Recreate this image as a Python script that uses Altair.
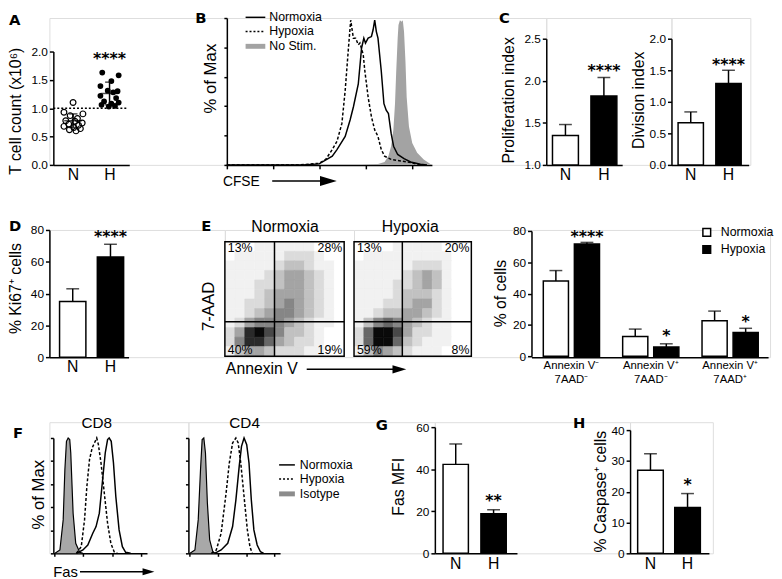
import altair as alt
import pandas as pd

FONT = "Liberation Sans"
BOLD_FONT = "DejaVu Sans"
HIST_GRAY = "#a3a3a3"
ISO_GRAY = "#a8a8a8"

# ======================= DATA =======================
GROUPS = ["N", "H"]

# A: T cell count (x10^6), individual points (value, horizontal jitter)
A_N_VALUES = [1.10, 0.93, 0.90, 0.87, 0.82, 0.78, 0.77, 0.74, 0.72, 0.70, 0.68, 0.66, 0.64, 0.62, 0.60]
A_N_JITTER = [0.00, -0.25, 0.27, -0.08, 0.12, -0.20, 0.05, 0.25, -0.12, 0.15, -0.25, 0.02, 0.20, -0.10, 0.08]
A_H_VALUES = [1.63, 1.58, 1.48, 1.39, 1.31, 1.30, 1.28, 1.22, 1.18, 1.12, 1.10, 1.08, 1.06, 1.04, 1.03]
A_H_JITTER = [-0.20, 0.25, 0.05, -0.25, -0.05, 0.22, 0.10, -0.25, 0.18, -0.15, 0.25, 0.05, -0.22, 0.15, -0.02]
A_MEAN = [0.78, 1.26]
A_SD = [0.12, 0.20]
A_REF = 1.0
A_STAR_Y = 1.94

# B: CFSE histograms (x: CFSE intensity, arbitrary units; y: % of max)
B_NORM_X = [0, 37.0, 45.0, 51.4, 53.7, 57.7, 60.1, 61.7, 64.1, 65.7, 66.8, 67.6, 68.9, 70.5, 71.3,
            72.1, 72.9, 73.7, 75.3, 76.6, 77.7, 78.8, 80.1, 81.3, 83.3, 86.4, 89.6, 94.4, 97.6]
B_NORM_Y = [0, 0, 0.7, 6.1, 10.6, 19.7, 31.0, 40.0, 55.9, 80.8, 87.6, 84.2, 87.6, 88.7, 93.2,
            100, 92.1, 87.6, 64.9, 42.3, 37.8, 35.5, 21.9, 12.9, 7.2, 4.3, 2.0, 0.5, 0]
B_HYP_X = [0, 35.4, 45.0, 48.2, 51.4, 53.7, 56.1, 57.7, 59.3, 60.4, 61.7, 62.8, 64.1, 64.9, 66.5,
           67.3, 68.9, 70.5, 72.1, 73.7, 75.3, 76.9, 80.1, 84.8, 89.6, 94.4]
B_HYP_Y = [0, 0, 1.1, 3.8, 10.6, 16.3, 28.7, 51.4, 80.8, 100, 87.6, 87.6, 83.0, 84.2, 76.2,
           64.9, 46.8, 33.3, 24.2, 19.7, 10.6, 6.1, 3.8, 2.7, 1.6, 0]
B_NOSTIM_X = [65.7, 73.7, 76.9, 78.8, 80.1, 81.2, 82.0, 82.6, 83.3, 83.7, 84.4, 85.2, 85.8, 86.4,
              87.1, 87.7, 88.8, 90.4, 92.8, 96.0, 100]
B_NOSTIM_Y = [0, 0.7, 2.0, 6.1, 12.9, 24.2, 42.3, 64.9, 87.6, 96.6, 100, 98.9, 100, 92.1,
              71.7, 46.8, 26.5, 15.2, 8.4, 3.8, 0]
B_LEGEND = ["Normoxia", "Hypoxia", "No Stim."]

# C: proliferation / division index (mean, top of error bar)
C_PROLIF = [1.35, 1.82]
C_PROLIF_ERR = [1.48, 2.04]
C_DIV = [0.67, 1.29]
C_DIV_ERR = [0.84, 1.50]

# D: % Ki67+ cells
D_KI67 = [35.0, 63.0]
D_KI67_ERR = [43.0, 71.0]

# E: density of events (0-9) on a 12x12 grid, top row first
E_NORM_GRID = ["000111111000",
               "011111222100",
               "111112332110",
               "111123443210",
               "111223443210",
               "111234443210",
               "112234543210",
               "112345543210",
               "124555432110",
               "248975332100",
               "258864322100",
               "134432221100"]
E_HYP_GRID = ["000011111000",
              "011111111100",
              "111111222100",
              "111112343100",
              "111122343100",
              "111123332100",
              "111223442100",
              "112334432100",
              "135654321100",
              "269974221100",
              "269963211100",
              "135432111000"]
E_NORM_GATE = [4.99, 3.62]
E_HYP_GATE = [4.94, 3.62]
E_NORM_PCT = ["13%", "28%", "40%", "19%"]
E_HYP_PCT = ["13%", "20%", "59%", "8%"]
E_CATS = ["Annexin V\u207b\n7AAD\u207b", "Annexin V\u207a\n7AAD\u207b", "Annexin V\u207a\n7AAD\u207a"]
E_CONDS = ["Normoxia", "Hypoxia"]
E_NORM = [48.0, 12.5, 22.6]
E_NORM_ERR = [54.7, 17.3, 28.8]
E_HYP = [71.6, 5.8, 15.2]
E_HYP_ERR = [72.7, 7.9, 17.8]
E_STARS = ["****", "*", "*"]
E_STAR_Y = [78.7, 15.2, 24.6]

# F: Fas histograms (x: Fas intensity, arbitrary units; y: % of max)
F8_ISO_X = [1.8, 7.0, 10.5, 12.3, 14.0, 15.8, 17.5, 18.6, 21.1, 23.9, 28.1, 31.6]
F8_ISO_Y = [0, 2.9, 29.0, 72.5, 97.1, 100, 98.6, 87.0, 34.8, 8.7, 0.9, 0]
F8_HYP_X = [24.6, 29.8, 33.3, 35.8, 38.6, 41.4, 43.9, 46.3, 48.1, 50.9, 54.4, 57.9, 61.4, 64.9, 68.4]
F8_HYP_Y = [0, 5.8, 29.0, 58.0, 81.2, 91.3, 95.7, 100, 94.2, 78.3, 52.2, 26.1, 8.7, 1.4, 0]
F8_NORM_X = [24.6, 31.6, 36.8, 42.1, 45.6, 49.1, 52.6, 55.4, 57.9, 59.6, 61.8, 64.2, 66.7, 70.2,
             73.7, 77.2, 82.5]
F8_NORM_Y = [0, 2.9, 7.2, 17.4, 23.2, 34.8, 63.8, 87.0, 98.6, 100, 97.1, 78.3, 49.3, 20.3,
             5.8, 0.9, 0]
F4_ISO_X = [1.8, 7.1, 10.7, 13.2, 15.0, 16.8, 18.6, 20.7, 23.2, 26.8, 30.4]
F4_ISO_Y = [0, 2.9, 29.0, 72.5, 98.6, 100, 87.0, 43.5, 11.6, 0.9, 0]
F4_HYP_X = [25.0, 30.4, 35.7, 41.1, 44.6, 48.2, 51.8, 54.3, 57.1, 60.7, 64.3, 67.1, 69.6]
F4_HYP_Y = [0, 2.9, 17.4, 52.2, 78.3, 95.7, 100, 95.7, 78.3, 49.3, 20.3, 5.8, 0]
F4_NORM_X = [28.6, 35.7, 42.9, 48.2, 51.8, 55.4, 57.9, 60.7, 63.6, 66.1, 68.6, 71.4, 75.0, 78.6, 82.1]
F4_NORM_Y = [0, 2.9, 8.7, 23.2, 46.4, 75.4, 92.8, 100, 94.2, 78.3, 46.4, 20.3, 7.2, 1.4, 0]
F_LEGEND = ["Normoxia", "Hypoxia", "Isotype"]

# G: Fas MFI
G_FAS = [42.3, 18.8]
G_FAS_ERR = [52.0, 20.7]

# H: % Caspase+ cells
H_CASP = [27.0, 14.9]
H_CASP_ERR = [32.3, 19.4]

DUMMY = pd.DataFrame({"d": [0]})


# ======================= HELPERS =======================
def yaxis(title=None, tx=0, ty=0, values=None, fmt=None, labels=True, ticks=True,
          domain=True, offset=0, title_size=16, tick_size=4):
    kw = dict(grid=False, labels=labels, ticks=ticks, domain=domain,
              domainColor="black", domainWidth=1.5, tickColor="black", tickWidth=1.5,
              tickSize=tick_size, labelFont=FONT, labelFontSize=12, labelColor="black",
              labelPadding=2)
    if values is not None:
        kw["values"] = values
    if fmt:
        kw["format"] = fmt
    if offset:
        kw["offset"] = offset
    if title:
        kw.update(title=title, titleFont=FONT, titleFontSize=title_size,
                  titleFontWeight="normal", titleColor="black", titleAngle=270,
                  titleAlign="center", titleBaseline="alphabetic", titleX=tx, titleY=ty)
    else:
        kw["title"] = None
    return alt.Axis(**kw)


def cat_axis(size=16, pad=2, expr=None, values=None, line_height=None):
    kw = dict(title=None, grid=False, ticks=False, domain=True, domainColor="black",
              domainWidth=1.5, labelAngle=0, labelFont=FONT, labelFontSize=size,
              labelColor="black", labelPadding=pad, labelBaseline="top")
    if expr:
        kw["labelExpr"] = expr
    if values is not None:
        kw["values"] = values
    if line_height:
        kw["labelLineHeight"] = line_height
    return alt.Axis(**kw)


def tick_axis(values, tick_size=3):
    return alt.Axis(title=None, labels=False, ticks=True, tickSize=tick_size, tickWidth=1.5,
                    tickColor="black", values=values, domainColor="black", domainWidth=1.5,
                    grid=False)


def band_scale(domain, axis_x, first_left, bar_w, step, end_x):
    n = len(domain)
    w = end_x - axis_x
    p_in = 1 - bar_w / step
    outer = w - step * (n - p_in)
    p_out = max(outer, 0) / (2 * step)
    align = min(max((first_left - axis_x) / outer, 0), 1) if outer > 0 else 0.5
    return alt.Scale(domain=domain, range=[0, w], paddingInner=p_in,
                     paddingOuter=p_out, align=align)


def txt(s, x, y, size, align="left", baseline="alphabetic", font=FONT, weight="normal"):
    return alt.Chart(DUMMY).mark_text(
        text=s, font=font, fontSize=size, fontWeight=weight, align=align,
        baseline=baseline, color="black").encode(x=alt.value(x), y=alt.value(y))


def hline(x1, x2, y, width=1.5, dash=None, color="black"):
    kw = dict(color=color, strokeWidth=width)
    if dash:
        kw["strokeDash"] = dash
    return alt.Chart(DUMMY).mark_rule(**kw).encode(
        x=alt.value(x1), x2=alt.value(x2), y=alt.value(y))


def frame_guide(left, top, bottom):
    # invisible guide that fixes the outer extent of one row of panels
    return alt.Chart(DUMMY).mark_rule(opacity=0, strokeWidth=0).encode(
        x=alt.value(left), y=alt.value(top), y2=alt.value(bottom))


def arrow_head(x, y, length):
    return alt.Chart(DUMMY).mark_point(
        shape="M-1,-0.6L1,0L-1,0.6Z", filled=True, size=length * length,
        color="black", opacity=1).encode(x=alt.value(x), y=alt.value(y))


def letter(s, x, y):
    return txt(s, x, y, 15, font=BOLD_FONT, weight="bold")


def star_text(df, x_enc, y_enc, extra=None):
    enc = dict(x=x_enc, y=y_enc, text="t:N")
    if extra:
        enc.update(extra)
    return alt.Chart(df).mark_text(font=BOLD_FONT, fontWeight="bold", fontSize=16,
                                   baseline="alphabetic", dy=9, color="black").encode(**enc)


def bar_panel(values, errs, stars, star_y, xscale, ydom, yrng, yvals, yfmt,
              title, tx, ty, w, h, extra=()):
    df = pd.DataFrame({"g": GROUPS, "v": values, "e": errs})
    xax = cat_axis()
    yax = yaxis(title, tx, ty, values=yvals, fmt=yfmt)
    ysc = alt.Scale(domain=ydom, range=yrng)
    X = alt.X("g:N", scale=xscale, axis=xax)
    base = alt.Chart(df)
    bars = base.mark_bar(stroke="black", strokeWidth=1.5).encode(
        x=X, y=alt.Y("v:Q", scale=ysc, axis=yax), y2=alt.datum(ydom[0]),
        fill=alt.Fill("g:N", scale=alt.Scale(domain=GROUPS, range=["white", "black"]),
                      legend=None))
    err = base.mark_rule(color="black", strokeWidth=1.5).encode(
        x=X, y=alt.Y("v:Q", scale=ysc, axis=yax), y2="e:Q")
    cap = base.mark_tick(color="black", size=13, thickness=1.5).encode(
        x=X, y=alt.Y("e:Q", scale=ysc, axis=yax))
    sdf = pd.DataFrame({"g": [GROUPS[1]], "sy": [star_y], "t": [stars]})
    star = star_text(sdf, X, alt.Y("sy:Q", scale=ysc, axis=yax))
    return alt.layer(err, bars, cap, star, *extra).properties(width=w, height=h)


def hist_df(xs, ys):
    return pd.DataFrame({"x": xs, "y": ys})


# Row extents (relative to each row's plot area): left guide, top / bottom margins
GUIDE_LEFT = -60
ROW_SPACING = 10

# ======================= PANEL A =======================
a_df = pd.DataFrame({
    "pos": [0] * len(A_N_VALUES) + [1] * len(A_H_VALUES),
    "jit": A_N_JITTER + A_H_JITTER,
    "val": A_N_VALUES + A_H_VALUES,
})
A_XDOM = [-0.5405, 1.5405]
a_xs = alt.Scale(domain=A_XDOM, range=[4, 81])
a_ys = alt.Scale(domain=[0, 2], range=[149, 34])
a_xax = cat_axis(expr=f"datum.value == 0 ? '{GROUPS[0]}' : '{GROUPS[1]}'", values=[0, 1])
a_yax = yaxis("T cell count (x10\u2076)", -33.5, 94, values=[0, 0.5, 1, 1.5, 2],
              fmt=".1f", offset=-4)


def AX(f):
    return alt.X(f, scale=a_xs, axis=a_xax)


def AY(f):
    return alt.Y(f, scale=a_ys, axis=a_yax)


a_pts = alt.Chart(a_df).transform_calculate(xp="datum.pos + datum.jit")
a_n = a_pts.transform_filter("datum.pos == 0").mark_point(
    shape="circle", filled=False, color="black", strokeWidth=1.2, size=34, opacity=1
).encode(x=AX("xp:Q"), y=AY("val:Q"))
a_h = a_pts.transform_filter("datum.pos == 1").mark_circle(
    color="black", size=34, opacity=1).encode(x=AX("xp:Q"), y=AY("val:Q"))
a_st = alt.Chart(pd.DataFrame({"pos": [0, 1], "m": A_MEAN, "sd": A_SD})).transform_calculate(
    lo="datum.m - datum.sd", hi="datum.m + datum.sd")
a_mean = a_st.mark_tick(orient="horizontal", size=18, thickness=1.5, color="black").encode(
    x=AX("pos:Q"), y=AY("m:Q"))
a_sdr = a_st.mark_rule(color="black", strokeWidth=1.5).encode(
    x=AX("pos:Q"), y=AY("lo:Q"), y2="hi:Q")
a_cap_hi = a_st.mark_tick(orient="horizontal", size=9, thickness=1.5, color="black").encode(
    x=AX("pos:Q"), y=AY("hi:Q"))
a_cap_lo = a_st.mark_tick(orient="horizontal", size=9, thickness=1.5, color="black").encode(
    x=AX("pos:Q"), y=AY("lo:Q"))
a_ref = alt.Chart(pd.DataFrame({"x1": [A_XDOM[0]], "x2": [1.49], "y": [A_REF]})).mark_rule(
    strokeDash=[2, 2], strokeWidth=1.5, color="black").encode(
    x=AX("x1:Q"), x2="x2:Q", y=AY("y:Q"))
a_star = star_text(pd.DataFrame({"pos": [1], "sy": [A_STAR_Y], "t": ["****"]}),
                   AX("pos:Q"), AY("sy:Q"))
panelA = alt.layer(a_ref, a_n, a_h, a_sdr, a_mean, a_cap_hi, a_cap_lo, a_star,
                   letter("A", -41, 7), frame_guide(GUIDE_LEFT, -20, 149 + 32)
                   ).properties(width=180, height=149)

# ======================= PANEL B =======================
b_xs = alt.Scale(domain=[0, 100], range=[0, 208])
b_ys = alt.Scale(domain=[0, 101.5], range=[149, 0])
b_xax = tick_axis([0, 22.7, 45.3, 68, 90.6], 4)
b_yax = yaxis("% of Max", -12, 61, values=[0, 20.3, 40.6, 60.9, 81.2, 101.5],
              labels=False, tick_size=3, title_size=17)
BX = alt.X("x:Q", scale=b_xs, axis=b_xax)
BY = alt.Y("y:Q", scale=b_ys, axis=b_yax)
b_area = alt.Chart(hist_df(B_NOSTIM_X, B_NOSTIM_Y)).mark_area(
    color=HIST_GRAY, opacity=1).encode(x=BX, y=BY)
b_hyp = alt.Chart(hist_df(B_HYP_X, B_HYP_Y)).mark_line(
    color="black", strokeWidth=1.5, strokeDash=[3, 2]).encode(x=BX, y=BY)
b_norm = alt.Chart(hist_df(B_NORM_X, B_NORM_Y)).mark_line(
    color="black", strokeWidth=1.5).encode(x=BX, y=BY)
b_leg = [
    hline(19, 39, -0.7), txt(B_LEGEND[0], 43, -0.7, 12.5, baseline="middle"),
    hline(19, 39, 13.7, dash=[2, 2]), txt(B_LEGEND[1], 43, 13.7, 12.5, baseline="middle"),
    hline(19, 39, 28.7, width=5, color=HIST_GRAY), txt(B_LEGEND[2], 43, 28.7, 12.5, baseline="middle"),
]
b_title = [txt("CFSE", -4, 170, 14), hline(46, 96, 165.3), arrow_head(103, 165.3, 17)]
panelB = alt.layer(b_area, b_hyp, b_norm, *b_leg, *b_title,
                   letter("B", -32, 5)).properties(width=324, height=149)

# ======================= PANEL C =======================
panelC1 = bar_panel(C_PROLIF, C_PROLIF_ERR, "****", 2.157,
                    band_scale(GROUPS, 553, 559.3, 26.3, 39, 630),
                    [1.0, 2.5], [149, 21], [1.0, 1.5, 2.0, 2.5], ".1f",
                    "Proliferation index", -33, 83, 127, 149,
                    extra=[letter("C", -48, 5)])
panelC2 = bar_panel(C_DIV, C_DIV_ERR, "****", 1.645,
                    band_scale(GROUPS, 680, 686.7, 25.7, 38.3, 758.3),
                    [0, 2], [149, 21], [0, 0.5, 1.0, 1.5, 2.0], ".1f",
                    "Division index", -28, 83, 80, 149)

# ======================= PANEL D =======================
panelD = bar_panel(D_KI67, D_KI67_ERR, "****", 78.3,
                   band_scale(GROUPS, 49, 59.3, 26.7, 38.3, 129.3),
                   [0, 80], [129, 0], [0, 20, 40, 60, 80], "d",
                   "% Ki67\u207a cells", -29, 59, 178, 129,
                   extra=[letter("D", -41, 0.7), frame_guide(GUIDE_LEFT, -22, 129 + 33)])


# ======================= PANEL E (dot plots) =======================
def grid_df(grid):
    rows = []
    for r, line in enumerate(grid):
        for c, ch in enumerate(line):
            rows.append({"c": c, "r": r, "d": int(ch)})
    return pd.DataFrame(rows)


def scatter_panel(grid, gate, pct, frame_w, view_w, title, title_x, yax=None, extra=()):
    n = len(grid)
    xs = alt.Scale(domain=[0, n], range=[0, frame_w])
    ys = alt.Scale(domain=[0, n], range=[128, 12])

    def X(f):
        return alt.X(f, scale=xs, axis=None)

    def Y(f):
        return alt.Y(f, scale=ys, axis=yax)

    shade = alt.Scale(type="pow", exponent=1.35, domain=[0, 9], range=["#ffffff", "#0a0a0a"])
    cells = alt.Chart(grid_df(grid)).transform_calculate(
        x0="datum.c", x1="datum.c + 1", y0=f"{n} - datum.r - 1", y1=f"{n} - datum.r"
    ).mark_rect(strokeWidth=0.6).encode(
        x=X("x0:Q"), x2="x1:Q", y=Y("y0:Q"), y2="y1:Q",
        color=alt.Color("d:Q", scale=shade, legend=None),
        stroke=alt.Stroke("d:Q", scale=shade, legend=None))
    ext = pd.DataFrame({"lo": [0], "hi": [n], "gx": [gate[0]], "gy": [gate[1]]})
    frame = alt.Chart(ext).mark_rect(fillOpacity=0, stroke="black", strokeWidth=1.5).encode(
        x=X("lo:Q"), x2="hi:Q", y=Y("lo:Q"), y2="hi:Q")
    vline = alt.Chart(ext).mark_rule(color="black", strokeWidth=1.5).encode(
        x=X("gx:Q"), y=Y("lo:Q"), y2="hi:Q")
    hl = alt.Chart(ext).mark_rule(color="black", strokeWidth=1.5).encode(
        y=Y("gy:Q"), x=X("lo:Q"), x2="hi:Q")
    labs = []
    spots = [(0.3, n, "left", "top"), (n - 0.2, n, "right", "top"),
             (0.3, 0.2, "left", "alphabetic"), (n - 0.2, 0.2, "right", "alphabetic")]
    for lab, (px, py, al, bl) in zip(pct, spots):
        labs.append(alt.Chart(pd.DataFrame({"px": [px], "py": [py], "t": [lab]})).mark_text(
            font=FONT, fontSize=12.5, align=al, baseline=bl, color="black").encode(
            x=X("px:Q"), y=Y("py:Q"), text="t:N"))
    head = txt(title, title_x, 2.3, 16, align="center")
    return alt.layer(cells, vline, hl, frame, *labs, head, *extra).properties(
        width=view_w, height=129)


s1_yax = yaxis("7-AAD", -12, 77, labels=False, ticks=False, domain=False, title_size=17)
panelS1 = scatter_panel(E_NORM_GRID, E_NORM_GATE, E_NORM_PCT, 121, 131, E_CONDS[0], 61,
                        yax=s1_yax,
                        extra=[txt("Annexin V", 1, 146, 16), hline(83, 172, 141.3),
                               arrow_head(177, 141.3, 14), letter("E", -24, 1)])
panelS2 = scatter_panel(E_HYP_GRID, E_HYP_GATE, E_HYP_PCT, 119, 180, E_CONDS[1], 57)

# ======================= PANEL E (bars) =======================
e_df = pd.DataFrame({"cat": E_CATS * 2,
                     "cond": [E_CONDS[0]] * 3 + [E_CONDS[1]] * 3,
                     "v": E_NORM + E_HYP, "e": E_NORM_ERR + E_HYP_ERR})
e_xs = band_scale(E_CATS, 538, 547, 63, 80.5, 778)
e_xax = cat_axis(size=11.5, pad=3, expr="split(datum.label, '\\n')", line_height=13.7)
e_ys = alt.Scale(domain=[0, 80], range=[128, 1])
e_yax = yaxis("% of cells", -26, 64, values=[0, 20, 40, 60, 80], fmt="d")
EX = alt.X("cat:N", scale=e_xs, axis=e_xax)
EO = alt.XOffset("cond:N", scale=alt.Scale(domain=E_CONDS, paddingInner=0.19, paddingOuter=0.095))
e_bars = alt.Chart(e_df).mark_bar(stroke="black", strokeWidth=1.5).encode(
    x=EX, xOffset=EO, y=alt.Y("v:Q", scale=e_ys, axis=e_yax), y2=alt.datum(0),
    fill=alt.Fill("cond:N", scale=alt.Scale(domain=E_CONDS, range=["white", "black"]),
                  legend=None))
e_err = alt.Chart(e_df).mark_rule(color="black", strokeWidth=1.5).encode(
    x=EX, xOffset=EO, y=alt.Y("v:Q", scale=e_ys, axis=e_yax), y2="e:Q")
e_cap = alt.Chart(e_df).mark_tick(color="black", size=13, thickness=1.5).encode(
    x=EX, xOffset=EO, y=alt.Y("e:Q", scale=e_ys, axis=e_yax))
e_star = star_text(pd.DataFrame({"cat": E_CATS, "cond": [E_CONDS[1]] * 3,
                                 "sy": E_STAR_Y, "t": E_STARS}),
                   EX, alt.Y("sy:Q", scale=e_ys, axis=e_yax), extra={"xOffset": EO})
e_leg = [
    alt.Chart(DUMMY).mark_square(size=62, fill="white", stroke="black", strokeWidth=1.5,
                                 opacity=1).encode(x=alt.value(177.8), y=alt.value(2.5)),
    alt.Chart(DUMMY).mark_square(size=62, fill="black", stroke="black", strokeWidth=1.5,
                                 opacity=1).encode(x=alt.value(177.8), y=alt.value(19.8)),
    txt(E_CONDS[0], 192, 2.5, 12.5, baseline="middle"),
    txt(E_CONDS[1], 192, 19.8, 12.5, baseline="middle"),
]
panelE = alt.layer(e_err, e_bars, e_cap, e_star, *e_leg).properties(width=242, height=129)

# ======================= PANEL F =======================
f_ys = alt.Scale(domain=[0, 100], range=[133, 16])
F_YTICKS = [0, 20, 40, 60, 80, 100]
F_XTICKS = [1, 32, 63, 94]


def fas_panel(iso, hyp, norm, xscale, yax, title, title_x, w, extra=()):
    X = alt.X("x:Q", scale=xscale, axis=tick_axis(F_XTICKS, 3))
    Y = alt.Y("y:Q", scale=f_ys, axis=yax)
    iso_df = hist_df(*iso)
    area = alt.Chart(iso_df).mark_area(color=ISO_GRAY, opacity=1).encode(x=X, y=Y)
    iso_line = alt.Chart(iso_df).mark_line(color="black", strokeWidth=1.2).encode(x=X, y=Y)
    hy = alt.Chart(hist_df(*hyp)).mark_line(color="black", strokeWidth=1.5,
                                             strokeDash=[3, 2]).encode(x=X, y=Y)
    no = alt.Chart(hist_df(*norm)).mark_line(color="black", strokeWidth=1.5).encode(x=X, y=Y)
    head = txt(title, title_x, 6, 15.5, align="center")
    return alt.layer(area, iso_line, hy, no, head, *extra).properties(width=w, height=133)


f8_yax = yaxis("% of Max", -10, 73, values=F_YTICKS, labels=False, tick_size=3,
               offset=-4, title_size=17)
f4_yax = yaxis(None, values=F_YTICKS, labels=False, tick_size=3)
panelF8 = fas_panel((F8_ISO_X, F8_ISO_Y), (F8_HYP_X, F8_HYP_Y), (F8_NORM_X, F8_NORM_Y),
                    alt.Scale(domain=[0, 100], range=[4, 99]), f8_yax, "CD8", 48, 141,
                    extra=[txt("Fas", 4, 156.5, 15), hline(31, 96, 151.7),
                           arrow_head(100.5, 151.7, 12), letter("F", -37, 16),
                           frame_guide(GUIDE_LEFT, -21, 133 + 30)])
f_leg = [
    hline(92, 108, 43.3), txt(F_LEGEND[0], 113, 43.3, 12.5, baseline="middle"),
    hline(92, 108, 57.7, dash=[2, 2]), txt(F_LEGEND[1], 113, 57.7, 12.5, baseline="middle"),
    hline(92, 108, 72.7, width=5, color="#8c8c8c"), txt(F_LEGEND[2], 113, 72.7, 12.5, baseline="middle"),
]
panelF4 = fas_panel((F4_ISO_X, F4_ISO_Y), (F4_HYP_X, F4_HYP_Y), (F4_NORM_X, F4_NORM_Y),
                    alt.Scale(domain=[0, 100], range=[0, 93]), f4_yax, "CD4", 57, 250,
                    extra=f_leg)

# ======================= PANELS G, H =======================
panelG = bar_panel(G_FAS, G_FAS_ERR, "**", 26.5,
                   band_scale(GROUPS, 440, 448.3, 25.7, 38.4, 523.3),
                   [0, 60], [133, 5], [0, 20, 40, 60], "d",
                   "Fas MFI", -32, 65, 198, 133, extra=[letter("G", -60, 8)])
panelH = bar_panel(H_CASP, H_CASP_ERR, "*", 23.3,
                   band_scale(GROUPS, 638, 645.7, 26, 37.6, 718),
                   [0, 40], [133, 8], [0, 10, 20, 30, 40], "d",
                   "% Caspase\u207a cells", -25, 70, 84, 133, extra=[letter("H", -58, 6)])

# ======================= LAYOUT =======================
RES = dict(x="independent", y="independent", color="independent", fill="independent",
           stroke="independent", xOffset="independent")
row1 = alt.hconcat(panelA, panelB, panelC1, panelC2, spacing=0, bounds="flush").resolve_scale(**RES)
row2 = alt.hconcat(panelD, panelS1, panelS2, panelE, spacing=0, bounds="flush").resolve_scale(**RES)
row3 = alt.hconcat(panelF8, panelF4, panelG, panelH, spacing=0, bounds="flush").resolve_scale(**RES)
chart = alt.vconcat(row1, row2, row3, spacing=ROW_SPACING, bounds="full").resolve_scale(**RES)
chart = chart.properties(padding={"left": -19, "top": -15, "right": 0, "bottom": 0}
                         ).configure_view(stroke=None).configure(font=FONT)

chart.save("out.html", embed_options={"renderer": "svg", "actions": False})
